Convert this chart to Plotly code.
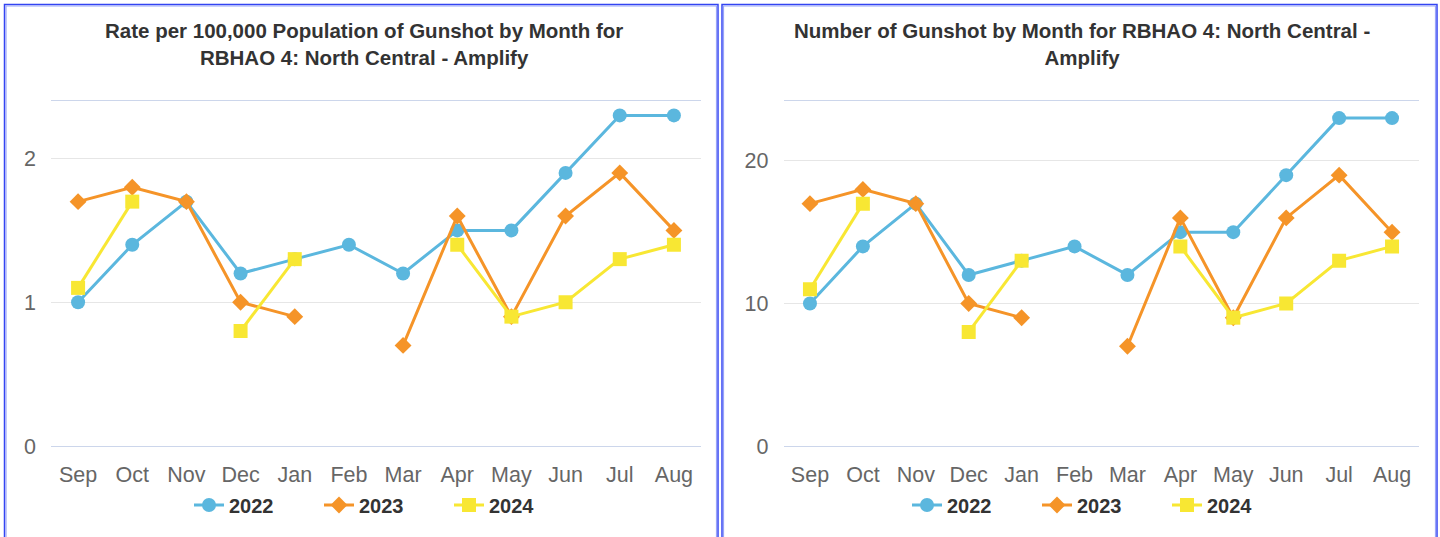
import plotly.graph_objects as go

months = ["Sep", "Oct", "Nov", "Dec", "Jan", "Feb", "Mar", "Apr", "May", "Jun", "Jul", "Aug"]
years = ["2022", "2023", "2024"]

rate_2022 = [1.0, 1.4, 1.7, 1.2, 1.3, 1.4, 1.2, 1.5, 1.5, 1.9, 2.3, 2.3]
rate_2023 = [1.7, 1.8, 1.7, 1.0, 0.9, None, 0.7, 1.6, 0.9, 1.6, 1.9, 1.5]
rate_2024 = [1.1, 1.7, None, 0.8, 1.3, None, None, 1.4, 0.9, 1.0, 1.3, 1.4]

count_2022 = [10, 14, 17, 12, 13, 14, 12, 15, 15, 19, 23, 23]
count_2023 = [17, 18, 17, 10, 9, None, 7, 16, 9, 16, 19, 15]
count_2024 = [11, 17, None, 8, 13, None, None, 14, 9, 10, 13, 14]

title_left = "Rate per 100,000 Population of Gunshot by Month for<br>RBHAO 4: North Central - Amplify"
title_right = "Number of Gunshot by Month for RBHAO 4: North Central -<br>Amplify"

colors = ["#5bb7de", "#f59428", "#f8e733"]
symbols = ["circle", "diamond", "square"]

W, H = 1440, 537
FONT = "Liberation Sans, Arial, Helvetica, sans-serif"

def px(x):
    return x / W

def py(y):
    return 1 - y / H

fig = go.Figure()

left_series = [rate_2022, rate_2023, rate_2024]
right_series = [count_2022, count_2023, count_2024]

for i, yr in enumerate(years):
    fig.add_trace(go.Scatter(
        x=months, y=left_series[i], name=yr, mode="lines+markers",
        line=dict(color=colors[i], width=3),
        marker=dict(symbol=symbols[i], size=14 if symbols[i] != "diamond" else 13, color=colors[i]),
        connectgaps=False, xaxis="x", yaxis="y", legend="legend",
    ))
for i, yr in enumerate(years):
    fig.add_trace(go.Scatter(
        x=months, y=right_series[i], name=yr, mode="lines+markers",
        line=dict(color=colors[i], width=3),
        marker=dict(symbol=symbols[i], size=14 if symbols[i] != "diamond" else 13, color=colors[i]),
        connectgaps=False, xaxis="x2", yaxis="y2", legend="legend2",
    ))

xcommon = dict(
    type="category", range=[-0.5, 11.5], showgrid=False, zeroline=False,
    showline=True, linecolor="#ccd6eb", linewidth=1, mirror=True,
    ticks="", tickfont=dict(family=FONT, size=21.5, color="#666666"),
    ticklabelstandoff=9, fixedrange=True, automargin=False,
)
ycommon = dict(
    showgrid=True, gridcolor="#e6e6e6", gridwidth=1, zeroline=False,
    showline=False, ticks="", tickfont=dict(family=FONT, size=21.5, color="#666666"),
    ticklabelstandoff=14, fixedrange=True, automargin=False,
)

legend_common = dict(
    orientation="h", xanchor="center", yanchor="middle", y=py(505),
    font=dict(family=FONT, size=20, color="#333333", weight="bold"),
    bgcolor="rgba(0,0,0,0)", entrywidth=85, entrywidthmode="pixels",
    itemclick=False, itemdoubleclick=False, tracegroupgap=0,
)

fig.update_layout(
    width=W, height=H, autosize=False,
    margin=dict(l=0, r=0, t=0, b=0, autoexpand=False),
    paper_bgcolor="white", plot_bgcolor="white",
    font=dict(family=FONT),
    showlegend=True,
    xaxis=dict(domain=[px(51), px(701)], anchor="y", **xcommon),
    yaxis=dict(domain=[py(446), py(101)], anchor="x", range=[0, 2.4],
               tickvals=[0, 1, 2], **ycommon),
    xaxis2=dict(domain=[px(783.5), px(1418.5)], anchor="y2", **xcommon),
    yaxis2=dict(domain=[py(446), py(101)], anchor="x2", range=[0, 24.2],
                tickvals=[0, 10, 20], **ycommon),
    legend=dict(x=px(384), **legend_common),
    legend2=dict(x=px(1102), **legend_common),
)

# titles
fig.add_annotation(text="<b>" + title_left + "</b>", xref="paper", yref="paper",
                   x=px(364), y=py(17), xanchor="center", yanchor="top", showarrow=False,
                   font=dict(family=FONT, size=20.5, color="#333333"), align="center")
fig.add_annotation(text="<b>" + title_right + "</b>", xref="paper", yref="paper",
                   x=px(1082), y=py(17), xanchor="center", yanchor="top", showarrow=False,
                   font=dict(family=FONT, size=20.5, color="#333333"), align="center")

# panel borders
for (x0, x1) in [(4.5, 718), (722, 1437)]:
    fig.add_shape(type="rect", xref="paper", yref="paper",
                  x0=px(x0), x1=px(x1), y0=py(560), y1=py(4.5),
                  line=dict(color="#3344f2", width=1.5), fillcolor="rgba(0,0,0,0)", layer="above")
    fig.add_shape(type="rect", xref="paper", yref="paper",
                  x0=px(x0 + 1.5), x1=px(x1 - 1.5), y0=py(560), y1=py(6),
                  line=dict(color="#9aa5f7", width=1.2), fillcolor="rgba(0,0,0,0)", layer="above")

fig.write_html("out.html", config={"displayModeBar": False},
               post_script="document.body.style.margin='0px';")
